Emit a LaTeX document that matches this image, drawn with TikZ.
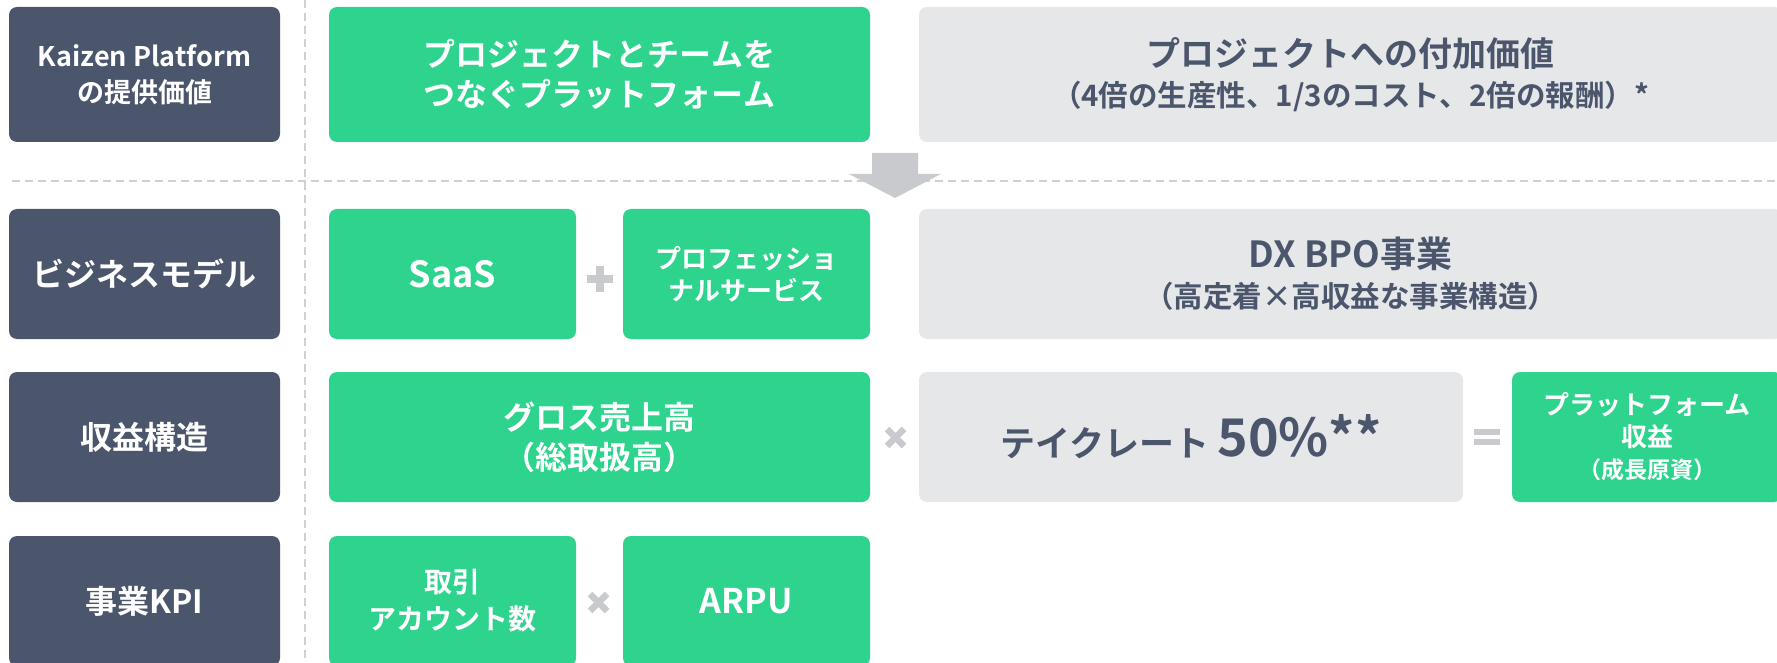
\documentclass[tikz,border=0pt]{standalone}
\usepackage{fontspec}
\setmainfont{Noto Sans CJK JP}[BoldFont={Noto Sans CJK JP Bold}]
\newcommand{\myfs}[2]{\fontsize{#1pt}{#2pt}\selectfont\bfseries}
\definecolor{darkc}{HTML}{4B566C}
\definecolor{greenc}{HTML}{2ED38D}
\definecolor{grayc}{HTML}{E6E7E9}
\definecolor{signc}{HTML}{C9CACE}
\definecolor{dashc}{HTML}{CFD0D3}
\tikzset{
  boxbase/.style={rounded corners=8pt, inner sep=0pt, align=center, draw=none},
  darkbox/.style={boxbase, fill=darkc, text=white},
  greenbox/.style={boxbase, fill=greenc, text=white},
  graybox/.style={boxbase, fill=grayc, text=darkc},
  guide/.style={draw=dashc, line width=2pt, dash pattern=on 8pt off 5pt},
  signfill/.style={fill=signc, draw=none},
  timesline/.style={draw=signc, line width=6.5pt},
}
\begin{document}
\begin{tikzpicture}[x=1pt,y=-1pt]
\useasboundingbox (0,0) rectangle (1777,663);
\clip (0,0) rectangle (1777,663);
% guides
\coordinate (vtop) at (305,0);
\coordinate (vbot) at (305,663);
\coordinate (hleft) at (12,181);
\coordinate (hright) at (1777,181);
\draw[guide] (vtop) -- (vbot);
\draw[guide] (hleft) -- (hright);

% row 1
\node[darkbox, minimum width=271pt, minimum height=135pt, font=\myfs{27}{36}] (k1) at (144.5,74.5) {Kaizen Platform\\の提供価値};
\node[greenbox, minimum width=541pt, minimum height=135pt, font=\myfs{32}{40}] (g1) at (599.5,74.5) {プロジェクトとチームを\\つなぐプラットフォーム};
\node[graybox, minimum width=863pt, minimum height=135pt, font=\myfs{34}{40}] (r1) at (1350.5,74.5) {プロジェクトへの付加価値\\{\myfs{29.5}{36}（4倍の生産性、1/3のコスト、2倍の報酬）*}};

% arrow
\fill[signfill] (872,153) -- (918,153) -- (918,174) -- (941,174) -- (895,198) -- (849,174) -- (872,174) -- cycle;

% row 2
\node[darkbox, minimum width=271pt, minimum height=130pt, font=\myfs{32}{40}] (k2) at (144.5,274) {ビジネスモデル};
\node[greenbox, minimum width=247pt, minimum height=130pt, font=\myfs{36}{40}] (saas) at (452.5,274) {SaaS};
\node[greenbox, minimum width=247pt, minimum height=130pt, font=\myfs{26}{32}] (pro) at (746.5,274) {プロフェッショ\\ナルサービス};
\node[graybox, minimum width=863pt, minimum height=130pt, font=\myfs{36}{40}] (dx) at (1350.5,274) {DX BPO事業\\{\myfs{29.5}{36}（高定着×高収益な事業構造）}};
\fill[signfill] (587,275) rectangle (613,283);
\fill[signfill] (596,266) rectangle (604,292);

% row 3
\node[darkbox, minimum width=271pt, minimum height=130pt, font=\myfs{32}{40}] (k3) at (144.5,437) {収益構造};
\node[greenbox, minimum width=541pt, minimum height=130pt, font=\myfs{32}{40}] (gross) at (599.5,437) {グロス売上高\\（総取扱高）};
\node[graybox, minimum width=544pt, minimum height=130pt, font=\myfs{35}{40}] (take) at (1191,437) {テイクレート {\myfs{52}{56}50\%**}};
\node[greenbox, minimum width=270pt, minimum height=130pt, font=\myfs{26}{32}] (pf) at (1647,437) {プラットフォーム\\収益\\{\myfs{23}{32}（成長原資）}};
\draw[timesline] (887,429) -- (904,446);
\draw[timesline] (904,429) -- (887,446);
\fill[signfill] (1474,429) rectangle (1500,435);
\fill[signfill] (1474,439) rectangle (1500,445);

% row 4
\node[darkbox, minimum width=271pt, minimum height=130pt, font=\myfs{32}{40}] (k4) at (144.5,601) {事業KPI};
\node[greenbox, minimum width=247pt, minimum height=130pt, font=\myfs{28}{37}] (acc) at (452.5,601) {取引\\アカウント数};
\node[greenbox, minimum width=247pt, minimum height=130pt, font=\myfs{34}{40}] (arpu) at (746.5,601) {ARPU};
\draw[timesline] (590,594) -- (607,611);
\draw[timesline] (607,594) -- (590,611);
\end{tikzpicture}
\end{document}
